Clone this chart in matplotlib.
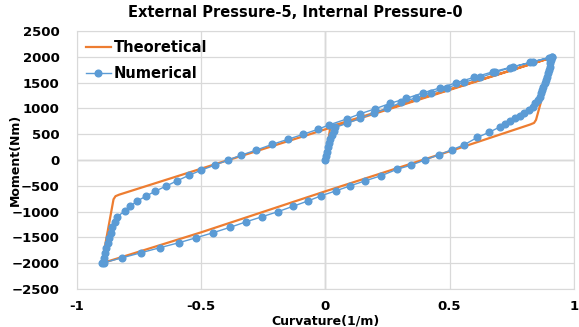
import numpy as np
import matplotlib
matplotlib.use("Agg")
import matplotlib.pyplot as plt

# Theoretical hysteresis path (curvature 1/m, moment Nm)
theo_x = [0.0, 0.02, 0.92, 0.868, 0.848, 0.84, 0.825, 0.5, 0.0, -0.5, -0.9,
          -0.853, -0.845, -0.83, 0.92]
theo_m = [0, 650, 2000, 1130, 780, 720, 690, 170, -605, -1400, -2000,
          -760, -700, -670, 2000]

# Numerical results
num_x = [0.0, 0.004, 0.008, 0.011, 0.016, 0.02, 0.027, 0.034, 0.04,
         0.087, 0.141, 0.194, 0.248, 0.306, 0.366, 0.425, 0.49, 0.557, 0.624,
         0.684, 0.744, 0.825, 0.899, 0.912,
         0.908, 0.905, 0.903, 0.899, 0.896, 0.892, 0.888, 0.883, 0.878, 0.874,
         0.869, 0.862, 0.854, 0.845, 0.834, 0.818, 0.801, 0.785, 0.765, 0.744,
         0.724, 0.704, 0.66, 0.612, 0.56, 0.51, 0.458, 0.402, 0.346, 0.288,
         0.224, 0.161, 0.101, 0.043, -0.017, -0.07, -0.131, -0.192, -0.255,
         -0.318, -0.385, -0.452, -0.52, -0.59, -0.667, -0.742, -0.818, -0.892,
         -0.9,
         -0.892, -0.888, -0.883, -0.877, -0.872, -0.865, -0.858, -0.848, -0.838,
         -0.808, -0.785, -0.758, -0.722, -0.684, -0.641, -0.597, -0.55, -0.499,
         -0.445, -0.392, -0.338, -0.278, -0.215, -0.152, -0.09, -0.031, 0.013,
         0.085, 0.141, 0.201, 0.26, 0.326, 0.391, 0.46, 0.527, 0.597, 0.675,
         0.755, 0.836, 0.912]
num_m = [0, 78, 161, 246, 323, 401, 484, 568, 634,
         711, 808, 905, 1001, 1118, 1208, 1305, 1402, 1505, 1602,
         1699, 1789, 1893, 1983, 2002,
         1938, 1873, 1809, 1744, 1680, 1615, 1550, 1486, 1421, 1357,
         1292, 1227, 1163, 1098, 1033, 969, 904, 853, 808, 756,
         698, 646, 540, 440, 300, 200, 105, 5, -97, -180,
         -304, -401, -498, -595, -692, -792, -897, -1001, -1098,
         -1195, -1305, -1408, -1505, -1602, -1699, -1796, -1893, -1990,
         -2000,
         -1905, -1809, -1711, -1615, -1518, -1408, -1305, -1195, -1098,
         -988, -891, -795, -698, -601, -504, -401, -297, -194,
         -97, 0, 97, 194, 303, 401, 498, 595, 678,
         795, 898, 995, 1098, 1195, 1300, 1396, 1498, 1602, 1712,
         1809, 1906, 2002]

x_ticks = [-1, -0.5, 0, 0.5, 1]
x_tick_labels = ["-1", "-0.5", "0", "0.5", "1"]
y_ticks = np.arange(-2500, 2501, 500)

orange = "#ED7D31"
blue = "#5B9BD5"

fig = plt.figure(figsize=(5.79, 3.27), dpi=100)
ax = fig.add_axes([0.133, 0.116, 0.858, 0.789])

ax.plot(theo_x, theo_m, color=orange, lw=1.6, label="Theoretical", zorder=3)
ax.plot(num_x, num_m, color=blue, lw=1.0, marker="o", ms=4.8,
        label="Numerical", zorder=4)

ax.set_xlim(-1, 1)
ax.set_ylim(-2500, 2500)
ax.set_xticks(x_ticks)
ax.set_xticklabels(x_tick_labels)
ax.set_yticks(y_ticks)
ax.grid(True, color="#d9d9d9", lw=0.9)
ax.axhline(0, color="#bfbfbf", lw=1.0, zorder=1)
ax.axvline(0, color="#bfbfbf", lw=1.0, zorder=1)
for s in ax.spines.values():
    s.set_color("#d9d9d9")
ax.tick_params(length=0, labelsize=9.5)
ax.tick_params(axis="x", pad=8)
ax.tick_params(axis="y", pad=12.5)
for lab in ax.get_xticklabels() + ax.get_yticklabels():
    lab.set_fontweight("bold")

fig.text(325 / 579, 1 - 321 / 327, "Curvature(1/m)", fontsize=9,
         fontweight="bold", ha="center", va="center")
fig.text(15 / 579, 1 - 160 / 327, "Moment(Nm)", fontsize=9,
         fontweight="bold", ha="center", va="center", rotation=90)
fig.suptitle("External Pressure-5, Internal Pressure-0", fontsize=10.5,
             fontweight="bold", x=0.51, y=0.985)

ax.legend(loc="upper left", frameon=False,
          prop={"weight": "bold", "size": 10.5}, handlelength=1.7,
          handletextpad=0.2, borderaxespad=0.2, labelspacing=0.75)

fig.savefig("out.png", dpi=100)
